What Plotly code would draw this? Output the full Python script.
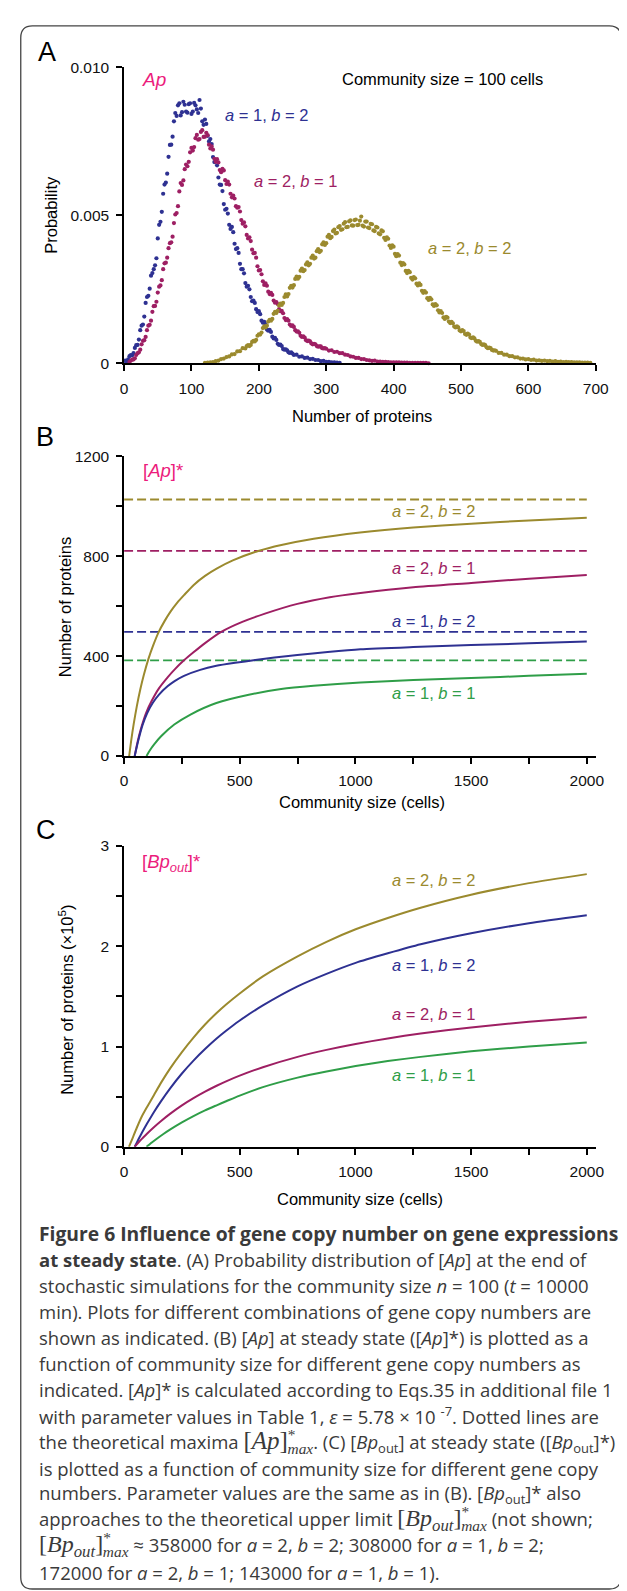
import plotly.graph_objects as go

W, H = 627, 1591

# ---------------- Panel A: probability distribution of [Ap] (values x 1e-5), sampled every 4 proteins
A_STEP = 4
a12_start = 0
a12_vals = [8, 6, 24, 27, 52, 62, 112, 131, 204, 228, 296, 318, 355, 468, 512, 604, 641, 738, 766, 846,
            872, 838, 884, 851, 876, 843, 880, 858, 890, 818, 824, 769, 758, 697, 688, 628, 603, 538, 522, 468,
            461, 404, 389, 336, 318, 271, 262, 224, 212, 183, 176, 144, 140, 114, 113, 90, 86, 66, 63, 48,
            47, 37, 37, 28, 29, 22, 23, 18, 19, 14, 15, 11, 11, 7, 8, 5, 5, 3, 3, 2, 1]
a12_mid_start = 2
a12_mid_vals = [9, 13, 28, 34, 61, 80, 127, 158, 224, 252, 305, 331, 422, 478, 573, 611, 698, 739, 818, 836,
                879, 849, 874, 847, 879, 851, 872, 846, 861, 806, 809, 750, 741, 680, 669, 604, 582, 519, 506, 454,
                443, 386, 373, 318, 304, 259, 250, 210, 204, 173, 166, 137, 132, 110, 106, 84, 79, 62, 58, 46,
                44, 35, 33]
a21_start = 8
a21_vals = [4, 12, 17, 34, 46, 76, 89, 127, 144, 193, 208, 259, 281, 338, 357, 406, 428, 503, 531, 609,
            618, 672, 681, 728, 731, 772, 758, 788, 766, 771, 726, 722, 681, 679, 646, 652, 606, 604, 561, 557,
            526, 513, 472, 463, 422, 413, 372, 357, 314, 301, 265, 262, 234, 231, 205, 200, 176, 169, 146, 144,
            126, 123, 107, 103, 89, 87, 75, 74, 64, 64, 56, 57, 50, 49, 43, 44, 38, 39, 34, 34,
            29, 28, 23, 22, 18, 18, 14, 14, 11, 10, 8, 9, 6, 6, 5, 5, 4, 3, 3, 3,
            3, 2, 2, 2, 1, 1, 1, 1, 1, 1, 1, 0]
a21_mid_start = 10
a21_mid_vals = [9, 13, 28, 37, 64, 78, 112, 130, 174, 194, 239, 263, 318, 340, 389, 409, 474, 508, 581, 603,
                656, 666, 713, 719, 761, 756, 782, 765, 779, 739, 733, 691, 690, 653, 657, 619, 614, 573, 567, 531,
                528, 484, 476, 434, 426, 384, 373, 328, 315, 277, 270, 242, 238, 212, 207, 183, 177, 153, 149, 131,
                128, 112, 108, 93, 91, 78, 77, 67, 66, 58, 57, 51, 51]
a22_start = 120
a22_vals = [1, 2, 3, 4, 7, 9, 14, 16, 21, 23, 30, 31, 40, 41, 51, 50, 61, 62, 76, 79,
            98, 104, 125, 127, 147, 150, 174, 177, 202, 204, 233, 234, 262, 264, 293, 292, 320, 315, 341, 336,
            364, 357, 386, 380, 409, 406, 434, 427, 452, 441, 464, 453, 477, 461, 483, 465, 486, 468, 496, 462,
            479, 457, 470, 447, 459, 436, 446, 417, 421, 390, 394, 362, 364, 332, 334, 305, 308, 283, 287, 263,
            265, 238, 239, 214, 216, 194, 196, 172, 170, 150, 154, 136, 135, 121, 121, 108, 109, 96, 97, 85,
            84, 73, 72, 62, 61, 51, 51, 43, 42, 35, 35, 29, 29, 24, 24, 20, 20, 16, 16, 13,
            14, 11, 12, 9, 10, 8, 9, 7, 8, 6, 7, 5, 6, 4, 5, 4, 4, 3, 3, 3, 2, 2, 2, 1]
a22_mid_start = 182
a22_mid_vals = [58, 58, 72, 74, 93, 97, 119, 121, 141, 144, 167, 170, 195, 197, 224, 226, 255, 256, 285, 286,
                313, 311, 334, 331, 357, 354, 379, 376, 402, 400, 428, 423, 447, 439, 460, 451, 472, 460, 480, 466,
                484, 467, 482, 465, 479, 459, 471, 449, 461, 439, 449, 424, 426, 398, 399, 370, 369, 340, 339, 312,
                312, 289, 291, 269, 270, 245, 244, 220, 221, 199, 200, 179, 176, 155, 157, 141, 140, 124, 125, 111,
                112, 99, 100, 87, 88, 76, 75, 65, 64, 54, 53, 45, 44]

# ---------------- Panel B: [Ap]* vs community size
b22_x = [22, 30, 42, 55, 70, 85, 105, 125, 150, 175, 200, 230, 260, 300, 350, 400, 470, 580, 680, 820, 1020, 1250, 1500, 1750, 2000]
b22_y = [0, 57, 131, 199, 266, 323, 388, 441, 497, 540, 577, 614, 645, 684, 721, 750, 783, 821, 845, 870, 895, 915, 930, 943, 954]
b21_x = [46, 55, 65, 77, 95, 119, 150, 189, 220, 259, 300, 350, 420, 511, 609, 749, 889, 1022, 1250, 1500, 1750, 2000]
b21_y = [0, 42, 82, 122, 172, 220, 270, 316, 348, 383, 415, 452, 497, 537, 570, 609, 636, 653, 676, 693, 710, 725]
b12_x = [46, 55, 65, 80, 100, 125, 150, 189, 220, 259, 329, 399, 480, 567, 650, 749, 880, 1022, 1250, 1500, 1750, 2000]
b12_y = [0, 37, 75, 124, 172, 214, 245, 280, 301, 321, 345, 361, 373, 384, 394, 404, 416, 427, 436, 444, 451, 458]
b11_x = [97, 105, 119, 130, 161, 217, 287, 399, 539, 679, 819, 1022, 1250, 1500, 1750, 2000]
b11_y = [0, 13, 33, 47, 80, 126, 166, 212, 245, 268, 281, 294, 304, 312, 321, 329]
b_max_x = [0, 2000]
b_max = {"22": 1027, "21": 821, "12": 497, "11": 383}

# ---------------- Panel C: [Bp_out]* vs community size (x 1e5)
c22_x = [21, 30, 40, 55, 75, 100, 130, 160, 200, 250, 300, 350, 400, 441, 497, 600, 750, 875, 1001, 1140, 1282, 1500, 1750, 2000]
c22_y = [0, 0.048, 0.105, 0.19, 0.295, 0.40, 0.52, 0.64, 0.785, 0.945, 1.09, 1.22, 1.335, 1.42, 1.525, 1.70, 1.90, 2.045, 2.17, 2.283, 2.385, 2.515, 2.63, 2.72]
c_x = [46, 55, 65, 80, 100, 130, 160, 200, 250, 300, 350, 400, 441, 497, 600, 750, 875, 1001, 1140, 1282, 1500, 1750, 2000]
c12_y = [0, 0.042, 0.087, 0.152, 0.234, 0.35, 0.456, 0.586, 0.731, 0.86, 0.975, 1.08, 1.157, 1.255, 1.41, 1.60, 1.725, 1.835, 1.93, 2.02, 2.13, 2.23, 2.31]
c21_y = [0, 0.024, 0.05, 0.086, 0.133, 0.198, 0.258, 0.331, 0.413, 0.485, 0.55, 0.609, 0.653, 0.707, 0.794, 0.897, 0.967, 1.026, 1.081, 1.13, 1.191, 1.247, 1.293]
c11_x = [97, 105, 120, 140, 170, 200, 250, 300, 350, 400, 441, 497, 600, 750, 875, 1001, 1140, 1282, 1500, 1750, 2000]
c11_y = [0, 0.015, 0.043, 0.078, 0.128, 0.174, 0.244, 0.307, 0.364, 0.414, 0.454, 0.508, 0.595, 0.69, 0.752, 0.805, 0.855, 0.897, 0.952, 1.0, 1.04]

BLUE = "#2e3192"
MAG = "#9e1f63"
OLIVE = "#9b8a2e"
GREEN = "#2f9e48"
PINK = "#ec1c7c"
SANS = "Liberation Sans"

fig = go.Figure()

# Panel A scatter
series_a = [
    (a12_start, a12_vals, a12_mid_start, a12_mid_vals, BLUE),
    (a21_start, a21_vals, a21_mid_start, a21_mid_vals, MAG),
    (a22_start, a22_vals, a22_mid_start, a22_mid_vals, OLIVE),
]
for start, vals, mstart, mvals, col in series_a:
    xs = [start + A_STEP * i for i in range(len(vals))] + [mstart + A_STEP * i for i in range(len(mvals))]
    ys = [v * 1e-5 for v in vals] + [v * 1e-5 for v in mvals]
    fig.add_trace(go.Scatter(x=xs, y=ys, mode="markers", marker=dict(size=4.2, color=col, line=dict(width=0)),
                             xaxis="x", yaxis="y", cliponaxis=False, showlegend=False))

# Panel B dashed maxima and curves
for key, col in [("22", OLIVE), ("21", MAG), ("12", BLUE), ("11", GREEN)]:
    fig.add_trace(go.Scatter(x=b_max_x, y=[b_max[key]] * 2, mode="lines",
                             line=dict(color=col, width=1.8, dash="9px,4px"),
                             xaxis="x2", yaxis="y2", showlegend=False))
for xs, ys, col in [(b22_x, b22_y, OLIVE), (b21_x, b21_y, MAG), (b12_x, b12_y, BLUE), (b11_x, b11_y, GREEN)]:
    fig.add_trace(go.Scatter(x=xs, y=ys, mode="lines", line=dict(color=col, width=2, shape="spline", smoothing=0.6),
                             xaxis="x2", yaxis="y2", cliponaxis=False, showlegend=False))

# Panel C curves
for xs, ys, col in [(c22_x, c22_y, OLIVE), (c_x, c12_y, BLUE), (c_x, c21_y, MAG), (c11_x, c11_y, GREEN)]:
    fig.add_trace(go.Scatter(x=xs, y=ys, mode="lines", line=dict(color=col, width=2, shape="spline", smoothing=0.6),
                             xaxis="x3", yaxis="y3", cliponaxis=False, showlegend=False))

def ydom(top_px, bot_px):
    return [1 - bot_px / H, 1 - top_px / H]

XDOM = [115.2 / W, 600 / W]
axis_common = dict(showline=True, linecolor="black", linewidth=1.6, ticks="outside", ticklen=6,
                   tickwidth=1.6, tickcolor="black", showgrid=False, zeroline=False,
                   tickfont=dict(family=SANS, size=15.5, color="#111"), ticklabelstandoff=4)

fig.update_layout(
    width=W, height=H, margin=dict(l=0, r=0, t=0, b=0),
    paper_bgcolor="white", plot_bgcolor="white", showlegend=False,
    xaxis=dict(domain=XDOM, range=[0, 700], anchor="y", tickvals=[0, 100, 200, 300, 400, 500, 600, 700], **axis_common),
    yaxis=dict(domain=ydom(51, 350), range=[0, 0.010], anchor="x", tickvals=[0, 0.005, 0.010],
               ticktext=["0", "0.005", "0.010"], **axis_common),
    xaxis2=dict(domain=XDOM, range=[0, 2038.7], anchor="y2", tickvals=[0, 250, 500, 750, 1000, 1250, 1500, 1750, 2000],
                ticktext=["0", "", "500", "", "1000", "", "1500", "", "2000"], **axis_common),
    yaxis2=dict(domain=ydom(444, 747), range=[0, 1200], anchor="x2", tickvals=[0, 200, 400, 600, 800, 1000, 1200],
                ticktext=["0", "", "400", "", "800", "", "1200"], **axis_common),
    xaxis3=dict(domain=XDOM, range=[0, 2038.7], anchor="y3", tickvals=[0, 250, 500, 750, 1000, 1250, 1500, 1750, 2000],
                ticktext=["0", "", "500", "", "1000", "", "1500", "", "2000"], **axis_common),
    yaxis3=dict(domain=ydom(838, 1142), range=[0, 3], anchor="x3", tickvals=[0, 0.5, 1, 1.5, 2, 2.5, 3],
                ticktext=["0", "", "1", "", "2", "", "3"], **axis_common),
)

annotations = []

def ann(text, x, y, size=16.5, color="black", family=SANS, xanchor="center", angle=0):
    annotations.append(dict(text=text, x=x / W, y=1 - y / H, xref="paper", yref="paper", showarrow=False,
                            xanchor=xanchor, yanchor="middle", textangle=angle,
                            font=dict(family=family, size=size, color=color)))

# panel letters
ann("A", 36, 35, size=27)
ann("B", 34, 425, size=27)
ann("C", 35, 822, size=27)

# Panel A texts
ann("<i>Ap</i>", 146, 63, size=19, color=PINK)
ann("Community size = 100 cells", 442, 63)
ann("<i>a</i> = 1, <i>b</i> = 2", 262, 99, color=BLUE)
ann("<i>a</i> = 2, <i>b</i> = 1", 292, 166, color=MAG)
ann("<i>a</i> = 2, <i>b</i> = 2", 471, 233, color=OLIVE)
ann("Probability", 40, 200, angle=-90)
ann("Number of proteins", 360, 403)

# Panel B texts
ann("[<i>Ap</i>]*", 155, 458, size=18.5, color=PINK)
ann("<i>a</i> = 2, <i>b</i> = 2", 434, 499, color=OLIVE)
ann("<i>a</i> = 2, <i>b</i> = 1", 434, 557, color=MAG)
ann("<i>a</i> = 1, <i>b</i> = 2", 434, 611, color=BLUE)
ann("<i>a</i> = 1, <i>b</i> = 1", 434, 683, color=GREEN)
ann("Number of proteins", 54, 597, angle=-90)
ann("Community size (cells)", 360, 793)

# Panel C texts
ann("[<i>Bp</i><sub><i>out</i></sub>]*", 163, 855, size=18.5, color=PINK)
ann("<i>a</i> = 2, <i>b</i> = 2", 434, 872, color=OLIVE)
ann("<i>a</i> = 1, <i>b</i> = 2", 434, 958, color=BLUE)
ann("<i>a</i> = 2, <i>b</i> = 1", 434, 1008, color=MAG)
ann("<i>a</i> = 1, <i>b</i> = 1", 434, 1069, color=GREEN)
ann("Number of proteins (×10<sup>5</sup>)", 56, 993, angle=-90)
ann("Community size (cells)", 358, 1195)

# Caption
STAR_MAX = ('<span style="font-family:Liberation Serif;font-size:22px;letter-spacing:-8px"><sup>*</sup></span>'
            '<span style="font-family:Liberation Serif;font-size:22px"><sub><i>max</i></sub></span>')
MATH_AP = '<span style="font-family:Liberation Serif;font-size:25px">[<i>Ap</i>]</span>' + STAR_MAX
MATH_BP = ('<span style="font-family:Liberation Serif;font-size:24px">[<i>Bp</i><sub><i>out</i></sub>]</span>'
           + STAR_MAX)
caption = [
    "<b>Figure 6 Influence of gene copy number on gene expressions</b>",
    "<b>at steady state</b>. (A) Probability distribution of [<i>Ap</i>] at the end of",
    "stochastic simulations for the community size <i>n</i> = 100 (<i>t</i> = 10000",
    "min). Plots for different combinations of gene copy numbers are",
    "shown as indicated. (B) [<i>Ap</i>] at steady state ([<i>Ap</i>]*) is plotted as a",
    "function of community size for different gene copy numbers as",
    "indicated. [<i>Ap</i>]* is calculated according to Eqs.35 in additional file 1",
    "with parameter values in Table 1, <i>ε</i> = 5.78 × 10 <sup>-7</sup>. Dotted lines are",
    "the theoretical maxima " + MATH_AP + ". (C) [<i>Bp</i><sub>out</sub>] at steady state ([<i>Bp</i><sub>out</sub>]*)",
    "is plotted as a function of community size for different gene copy",
    "numbers. Parameter values are the same as in (B). [<i>Bp</i><sub>out</sub>]* also",
    "approaches to the theoretical upper limit " + MATH_BP + " (not shown;",
    MATH_BP + " ≈ 358000 for <i>a</i> = 2, <i>b</i> = 2; 308000 for <i>a</i> = 1, <i>b</i> = 2;",
    "172000 for <i>a</i> = 2, <i>b</i> = 1; 143000 for <i>a</i> = 1, <i>b</i> = 1).",
]
cap_sizes = [18.5] * len(caption)
cap_sizes[0] = 19.3
for i, line in enumerate(caption):
    ann(line, 26, 1230 + 26.3 * i, size=cap_sizes[i], color="#3a3a3a", family="Open Sans", xanchor="left")

fig.update_layout(annotations=annotations)

# rounded frame
x0, x1 = 9 / W, 626 / W
y0, y1 = 1 - 1589 / H, 1 - 9 / H
rx, ry = 12 / W, 12 / H
path = (f"M {x0 + rx},{y1} L {x1 - rx},{y1} Q {x1},{y1} {x1},{y1 - ry} L {x1},{y0 + ry} Q {x1},{y0} {x1 - rx},{y0} "
        f"L {x0 + rx},{y0} Q {x0},{y0} {x0},{y0 + ry} L {x0},{y1 - ry} Q {x0},{y1} {x0 + rx},{y1} Z")
fig.add_shape(type="path", path=path, xref="paper", yref="paper", line=dict(color="#444", width=1.3))

fig.write_html("out.html")
